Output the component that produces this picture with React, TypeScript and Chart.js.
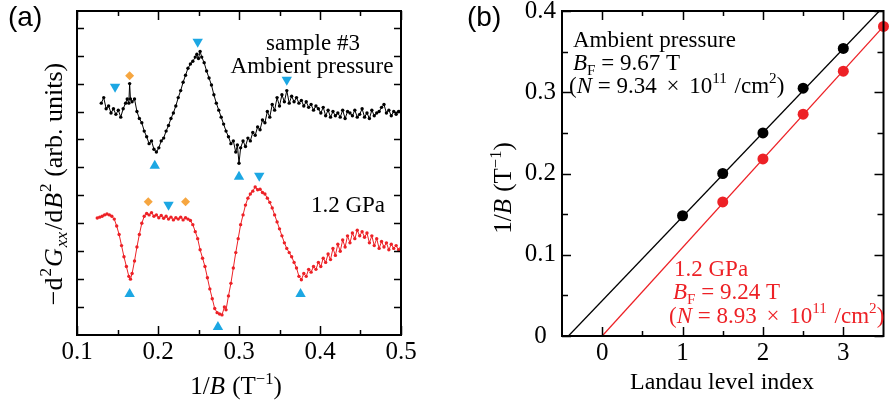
import React, { useEffect, useRef } from 'react';
import { Chart, registerables } from 'chart.js';
Chart.register(...registerables);

const SERIF = '"Liberation Serif", "Times New Roman", Times, serif';
const SANS = '"Liberation Sans", Arial, Helvetica, sans-serif';
const BLACK = '#000000';
const RED = '#ED2126';
const BLUE = '#1CA7E3';
const ORANGE = '#F6A640';

// ---------- Panel (a): -d2Gxx/dB2 vs 1/B (arb. units) ----------
const ambientX = [
  0.130, 0.133, 0.136, 0.139, 0.142, 0.145, 0.148, 0.151, 0.154, 0.157,
  0.160, 0.162, 0.164, 0.165, 0.166, 0.168, 0.171, 0.174, 0.177, 0.180,
  0.183, 0.186, 0.189, 0.192, 0.195, 0.198, 0.201, 0.204, 0.207, 0.210,
  0.213, 0.216, 0.219, 0.222, 0.225, 0.228, 0.231, 0.234, 0.237, 0.240,
  0.243, 0.246, 0.248, 0.250, 0.252, 0.254, 0.257, 0.260, 0.263, 0.266,
  0.269, 0.272, 0.275, 0.278, 0.281, 0.284, 0.287, 0.290, 0.293, 0.296,
  0.298, 0.300, 0.302, 0.305, 0.308, 0.311, 0.314, 0.317, 0.320, 0.323,
  0.326, 0.329, 0.332, 0.335, 0.338, 0.341, 0.344, 0.347, 0.350, 0.353,
  0.356, 0.359, 0.362, 0.365, 0.368, 0.371, 0.374, 0.377, 0.380, 0.383,
  0.386, 0.389, 0.392, 0.395, 0.398, 0.401, 0.404, 0.407, 0.410, 0.413,
  0.416, 0.419, 0.422, 0.425, 0.428, 0.431, 0.434, 0.437, 0.440, 0.443,
  0.446, 0.449, 0.452, 0.455, 0.458, 0.461, 0.464, 0.467, 0.470, 0.473,
  0.476, 0.479, 0.482, 0.485, 0.488, 0.491, 0.494, 0.497, 0.500,
];
const ambientY = [
  8.30, 8.50, 8.10, 8.20, 7.95, 8.10, 7.90, 8.05, 7.80, 8.10,
  8.30, 8.45, 8.30, 9.00, 8.45, 8.35, 8.45, 8.00, 7.75, 7.60,
  7.30, 7.10, 6.85, 6.95, 6.65, 6.55, 6.70, 6.95, 7.05, 7.30,
  7.50, 7.75, 7.95, 8.20, 8.50, 8.75, 9.05, 9.30, 9.55, 9.70,
  9.80, 9.95, 10.05, 9.90, 10.15, 9.95, 9.75, 9.45, 9.20, 8.95,
  8.60, 8.30, 8.05, 7.80, 7.55, 7.30, 7.10, 6.85, 6.95, 6.55,
  6.80, 6.15, 6.70, 6.95, 6.75, 7.05, 6.95, 7.25, 7.15, 7.45,
  7.35, 7.70, 7.60, 8.00, 7.80, 8.25, 8.05, 8.50, 8.20, 8.60,
  8.35, 8.75, 8.30, 8.55, 8.35, 8.50, 8.30, 8.40, 8.20, 8.35,
  8.15, 8.25, 8.05, 8.20, 8.10, 7.95, 8.15, 7.85, 8.05, 7.80,
  8.00, 7.85, 7.95, 7.80, 8.05, 7.75, 8.00, 7.95, 7.85, 8.05,
  7.80, 7.90, 8.10, 7.80, 7.95, 7.75, 8.05, 7.85, 7.95, 8.00,
  8.15, 8.25, 7.95, 8.05, 7.85, 8.00, 7.90, 8.00, 8.02,
];
const gpaX = [
  0.125, 0.128, 0.131, 0.134, 0.137, 0.140, 0.143, 0.146, 0.149, 0.152,
  0.155, 0.158, 0.161, 0.164, 0.166, 0.168, 0.171, 0.174, 0.177, 0.180,
  0.183, 0.186, 0.189, 0.192, 0.195, 0.198, 0.201, 0.204, 0.207, 0.210,
  0.213, 0.216, 0.219, 0.222, 0.225, 0.228, 0.231, 0.234, 0.237, 0.240,
  0.243, 0.246, 0.249, 0.252, 0.255, 0.258, 0.261, 0.264, 0.267, 0.270,
  0.273, 0.276, 0.279, 0.282, 0.284, 0.287, 0.290, 0.293, 0.296, 0.299,
  0.302, 0.305, 0.308, 0.311, 0.314, 0.317, 0.320, 0.323, 0.326, 0.329,
  0.332, 0.335, 0.338, 0.341, 0.344, 0.347, 0.350, 0.353, 0.356, 0.359,
  0.362, 0.365, 0.368, 0.371, 0.374, 0.377, 0.380, 0.383, 0.386, 0.389,
  0.392, 0.395, 0.398, 0.401, 0.404, 0.407, 0.410, 0.413, 0.416, 0.419,
  0.422, 0.425, 0.428, 0.431, 0.434, 0.437, 0.440, 0.443, 0.446, 0.449,
  0.452, 0.455, 0.458, 0.461, 0.464, 0.467, 0.470, 0.473, 0.476, 0.479,
  0.482, 0.485, 0.488, 0.491, 0.494, 0.497, 0.500,
];
const gpaY = [
  4.19, 4.22, 4.25, 4.30, 4.33, 4.30, 4.25, 4.15, 3.90, 3.60,
  3.20, 2.80, 2.45, 2.10, 2.00, 2.20, 2.65, 3.15, 3.60, 4.00,
  4.25, 4.35, 4.30, 4.38, 4.25, 4.30, 4.20, 4.28, 4.18, 4.25,
  4.15, 4.22, 4.12, 4.20, 4.15, 4.22, 4.12, 4.20, 4.15, 4.10,
  3.95, 3.70, 3.45, 3.05, 2.75, 2.45, 2.05, 1.65, 1.30, 0.95,
  0.80, 0.75, 0.72, 1.00, 0.90, 1.40, 1.85, 2.40, 2.95, 3.45,
  3.95, 4.30, 4.65, 4.90, 5.05, 5.15, 5.30, 5.20, 5.22, 5.10,
  5.05, 4.90, 4.75, 4.55, 4.30, 4.05, 3.80, 3.55, 3.30, 3.10,
  2.95, 2.80, 2.60, 2.40, 2.10, 1.98, 2.20, 2.10, 2.35, 2.25,
  2.45, 2.35, 2.60, 2.45, 2.75, 2.60, 2.90, 2.70, 3.10, 2.85,
  3.25, 3.00, 3.40, 3.15, 3.55, 3.30, 3.65, 3.45, 3.75, 3.55,
  3.70, 3.50, 3.65, 3.30, 3.55, 3.20, 3.45, 3.10, 3.35, 3.15,
  3.30, 3.05, 3.25, 3.10, 3.20, 3.05, 3.12,
];
// Landau level markers
const downTriX = [0.147, 0.249, 0.359, 0.325, 0.213];
const downTriY = [8.89, 10.5, 9.14, 5.70, 4.66];
const upTriX = [0.196, 0.300, 0.165, 0.274, 0.376];
const upTriY = [6.06, 5.67, 1.47, 0.29, 1.47];
const diamondX = [0.165, 0.188, 0.234];
const diamondY = [9.28, 4.77, 4.77];

const aXLabels = [0.1, 0.2, 0.3, 0.4, 0.5];
const aXMinor = [0.15, 0.25, 0.35, 0.45];
const aYTicks = [1, 2, 3, 4, 5, 6, 7, 8, 9, 10, 11];

// ---------- Panel (b): 1/B vs Landau level index ----------
const ambientIndex = [1, 1.5, 2, 2.5, 3];
const ambientInvB = [0.148, 0.200, 0.250, 0.305, 0.354];
const gpaIndex = [1.5, 2, 2.5, 3, 3.5];
const gpaInvB = [0.165, 0.218, 0.273, 0.326, 0.381];
const ambientFitX = [-0.42, 3.448];
const ambientFitY = [0, 0.4];
const gpaFitX = [0, 3.5];
const gpaFitY = [0, 0.381];

const bXLabels = [0, 1, 2, 3];
const bXMinor = [0.5, 1.5, 2.5];
const bYLabels = [0, 0.1, 0.2, 0.3, 0.4];
const bYMinor = [0.05, 0.15, 0.25, 0.35];

type Seg = { t: string; it?: boolean; sup?: boolean; sub?: boolean; gap?: number };
type Label = {
  segs: Seg[];
  x: number;
  y: number;
  size: number;
  color?: string;
  align?: 'left' | 'center';
  rotate?: boolean;
  family?: string;
};

function segFont(s: Seg, size: number, family: string) {
  const sz = s.sup || s.sub ? size * 0.66 : size;
  return `${s.it ? 'italic ' : ''}${sz}px ${family}`;
}
function richWidth(ctx: CanvasRenderingContext2D, segs: Seg[], size: number, family: string) {
  let w = 0;
  for (const s of segs) {
    ctx.font = segFont(s, size, family);
    w += ctx.measureText(s.t).width + (s.gap || 0);
  }
  return w;
}
function drawRich(ctx: CanvasRenderingContext2D, l: Label) {
  const family = l.family || SERIF;
  ctx.save();
  ctx.translate(l.x, l.y);
  if (l.rotate) ctx.rotate(-Math.PI / 2);
  const w = richWidth(ctx, l.segs, l.size, family);
  let cx = l.align === 'center' ? -w / 2 : 0;
  ctx.fillStyle = l.color || BLACK;
  ctx.textBaseline = 'alphabetic';
  ctx.textAlign = 'left';
  for (const s of l.segs) {
    ctx.font = segFont(s, l.size, family);
    const dy = s.sup ? -0.42 * l.size : s.sub ? 0.2 * l.size : 0;
    ctx.fillText(s.t, cx, dy);
    cx += ctx.measureText(s.t).width + (s.gap || 0);
  }
  ctx.restore();
}

type TickSpec = { v: number; len: number }[];

function framePlugin(xTicks: TickSpec, yTicks: TickSpec, labels: Label[]) {
  return {
    id: 'frameAndText',
    afterDatasetsDraw(chart: any) {
      const { ctx, chartArea: a, scales } = chart;
      ctx.save();
      ctx.strokeStyle = BLACK;
      ctx.lineWidth = 1.5;
      ctx.beginPath();
      for (const t of xTicks) {
        const px = Math.round(scales.x.getPixelForValue(t.v)) + 0.5;
        ctx.moveTo(px, a.bottom);
        ctx.lineTo(px, a.bottom - t.len);
        ctx.moveTo(px, a.top);
        ctx.lineTo(px, a.top + t.len);
      }
      for (const t of yTicks) {
        const py = Math.round(scales.y.getPixelForValue(t.v)) + 0.5;
        ctx.moveTo(a.left, py);
        ctx.lineTo(a.left + t.len, py);
        ctx.moveTo(a.right, py);
        ctx.lineTo(a.right - t.len, py);
      }
      ctx.stroke();
      ctx.lineWidth = 2;
      ctx.strokeRect(a.left, a.top, a.right - a.left, a.bottom - a.top);
      ctx.restore();
      for (const l of labels) drawRich(ctx, l);
    },
  };
}

const tickFont = { family: SERIF, size: 25 };

function fixedAxis(size: number, horizontal: boolean) {
  return (s: any) => {
    if (horizontal) s.height = size;
    else s.width = size;
    s.paddingLeft = 0;
    s.paddingRight = 0;
    s.paddingTop = 0;
    s.paddingBottom = 0;
  };
}

function PanelA() {
  const ref = useRef<HTMLCanvasElement>(null);
  useEffect(() => {
    const pts = (xs: number[], ys: number[]) => xs.map((x, i) => ({ x, y: ys[i] }));
    const xTicks: TickSpec = [
      ...aXLabels.map((v) => ({ v, len: 9 })),
      ...aXMinor.map((v) => ({ v, len: 5 })),
    ];
    const yTicks: TickSpec = aYTicks.map((v) => ({ v, len: 7 }));
    const labels: Label[] = [
      { segs: [{ t: '(a)' }], x: 8, y: 26, size: 28, family: SANS },
      { segs: [{ t: 'sample #3' }], x: 313, y: 50, size: 23, align: 'center' },
      { segs: [{ t: 'Ambient pressure' }], x: 312, y: 73, size: 23, align: 'center' },
      { segs: [{ t: '1.2 GPa' }], x: 348, y: 212, size: 23, align: 'center' },
      {
        segs: [{ t: '1/' }, { t: 'B', it: true, gap: 1 }, { t: ' (T' }, { t: '−1', sup: true }, { t: ')' }],
        x: 236, y: 394, size: 25, align: 'center',
      },
      {
        segs: [
          { t: '−d', gap: 1 }, { t: '2', sup: true, gap: 1 }, { t: 'G', it: true, gap: 1 },
          { t: 'xx', it: true, sub: true, gap: 2 }, { t: '/d', gap: 1 }, { t: 'B', it: true, gap: 1 },
          { t: '2', sup: true }, { t: ' (arb. units)' },
        ],
        x: 62, y: 184, size: 26, align: 'center', rotate: true,
      },
    ];
    const chart = new Chart(ref.current!, {
      type: 'scatter',
      data: {
        datasets: [
          {
            data: pts(ambientX, ambientY), showLine: true, borderColor: BLACK, borderWidth: 1,
            pointRadius: 1.7, pointBackgroundColor: BLACK, pointBorderWidth: 0,
          },
          {
            data: pts(gpaX, gpaY), showLine: true, borderColor: RED, borderWidth: 1,
            pointRadius: 1.7, pointBackgroundColor: RED, pointBorderWidth: 0,
          },
          {
            data: pts(downTriX, downTriY), pointStyle: 'triangle', rotation: 180, pointRadius: 6,
            pointBackgroundColor: BLUE, pointBorderColor: BLUE, pointBorderWidth: 0, clip: false,
          },
          {
            data: pts(upTriX, upTriY), pointStyle: 'triangle', pointRadius: 6,
            pointBackgroundColor: BLUE, pointBorderColor: BLUE, pointBorderWidth: 0, clip: false,
          },
          {
            data: pts(diamondX, diamondY), pointStyle: 'rectRot', pointRadius: 4.5,
            pointBackgroundColor: ORANGE, pointBorderColor: ORANGE, pointBorderWidth: 0, clip: false,
          },
        ] as any,
      },
      options: {
        animation: false,
        responsive: false,
        events: [],
        layout: { padding: { left: 0, right: 44, top: 11, bottom: 0 } },
        plugins: { legend: { display: false }, tooltip: { enabled: false } },
        scales: {
          x: {
            type: 'linear', min: 0.1, max: 0.5,
            afterBuildTicks: (s: any) => { s.ticks = aXLabels.map((v) => ({ value: v })); },
            ticks: {
              callback: (v: any) => Number(v).toFixed(1), font: tickFont, color: BLACK,
              padding: 2, maxRotation: 0, autoSkip: false,
            },
            grid: { display: false, drawTicks: false },
            border: { display: false },
            afterFit: fixedAxis(75, true),
          },
          y: {
            type: 'linear', min: 0, max: 11.6,
            ticks: { display: false },
            grid: { display: false, drawTicks: false },
            border: { display: false },
            afterFit: fixedAxis(77, false),
          },
        },
      } as any,
      plugins: [framePlugin(xTicks, yTicks, labels)],
    });
    return () => chart.destroy();
  }, []);
  return <canvas ref={ref} width={445} height={410} style={{ position: 'absolute', left: 0, top: 0 }} />;
}

function PanelB() {
  const ref = useRef<HTMLCanvasElement>(null);
  useEffect(() => {
    const pts = (xs: number[], ys: number[]) => xs.map((x, i) => ({ x, y: ys[i] }));
    const xTicks: TickSpec = [
      ...bXLabels.map((v) => ({ v, len: 9 })),
      ...bXMinor.map((v) => ({ v, len: 5 })),
    ];
    const yTicks: TickSpec = [
      ...bYLabels.map((v) => ({ v, len: 9 })),
      ...bYMinor.map((v) => ({ v, len: 6 })),
    ];
    const nSegs = (val: string): Seg[] => [
      { t: '(' }, { t: 'N', it: true }, { t: ` = ${val} `, gap: 4 }, { t: '×', gap: 4 }, { t: ' 10' },
      { t: '11', sup: true, gap: 2 }, { t: ' /cm' }, { t: '2', sup: true }, { t: ')' },
    ];
    const labels: Label[] = [
      { segs: [{ t: '(b)' }], x: 22, y: 26, size: 28, family: SANS },
      { segs: [{ t: 'Ambient pressure' }], x: 128, y: 47, size: 23 },
      {
        segs: [{ t: 'B', it: true }, { t: 'F', sub: true }, { t: ' = 9.67 T' }],
        x: 128, y: 70, size: 23,
      },
      { segs: nSegs('9.34'), x: 124, y: 93, size: 23 },
      { segs: [{ t: '1.2 GPa' }], x: 229, y: 276, size: 23, color: RED },
      {
        segs: [{ t: 'B', it: true }, { t: 'F', sub: true }, { t: ' = 9.24 T' }],
        x: 228, y: 299, size: 23, color: RED,
      },
      { segs: nSegs('8.93'), x: 224, y: 323, size: 23, color: RED },
      {
        segs: [{ t: 'Landau level index' }],
        x: 277, y: 389, size: 24, align: 'center',
      },
      {
        segs: [{ t: '1/' }, { t: 'B', it: true, gap: 1 }, { t: ' (T' }, { t: '−1', sup: true }, { t: ')' }],
        x: 66, y: 188, size: 25, align: 'center', rotate: true,
      },
    ];
    const chart = new Chart(ref.current!, {
      type: 'scatter',
      data: {
        datasets: [
          {
            data: pts(ambientFitX, ambientFitY), showLine: true, borderColor: BLACK, borderWidth: 1.3,
            pointRadius: 0,
          },
          {
            data: pts(gpaFitX, gpaFitY), showLine: true, borderColor: RED, borderWidth: 1.3,
            pointRadius: 0,
          },
          {
            data: pts(ambientIndex, ambientInvB), pointRadius: 5.5, pointBackgroundColor: BLACK,
            pointBorderWidth: 0, clip: false,
          },
          {
            data: pts(gpaIndex, gpaInvB), pointRadius: 5.5, pointBackgroundColor: RED,
            pointBorderWidth: 0, clip: false,
          },
        ] as any,
      },
      options: {
        animation: false,
        responsive: false,
        events: [],
        layout: { padding: { left: 0, right: 2, top: 11, bottom: 0 } },
        plugins: { legend: { display: false }, tooltip: { enabled: false } },
        scales: {
          x: {
            type: 'linear', min: -0.5, max: 3.5,
            afterBuildTicks: (s: any) => { s.ticks = bXLabels.map((v) => ({ value: v })); },
            ticks: {
              callback: (v: any) => String(v), font: tickFont, color: BLACK,
              padding: 2, maxRotation: 0, autoSkip: false,
            },
            grid: { display: false, drawTicks: false },
            border: { display: false },
            afterFit: fixedAxis(74, true),
          },
          y: {
            type: 'linear', min: 0, max: 0.4,
            afterBuildTicks: (s: any) => { s.ticks = bYLabels.map((v) => ({ value: v })); },
            ticks: {
              callback: (v: any) => (Number(v) === 0 ? '0' : Number(v).toFixed(1)),
              font: tickFont, color: BLACK, padding: 6, crossAlign: 'center', autoSkip: false,
            },
            grid: { display: false, drawTicks: false },
            border: { display: false },
            afterFit: fixedAxis(117, false),
          },
        },
      } as any,
      plugins: [framePlugin(xTicks, yTicks, labels)],
    });
    return () => chart.destroy();
  }, []);
  return <canvas ref={ref} width={444} height={410} style={{ position: 'absolute', left: 445, top: 0 }} />;
}

export default function App() {
  return (
    <div style={{ position: 'absolute', left: 0, top: 0, width: 889, height: 410, background: '#fff' }}>
      <PanelA />
      <PanelB />
    </div>
  );
}
